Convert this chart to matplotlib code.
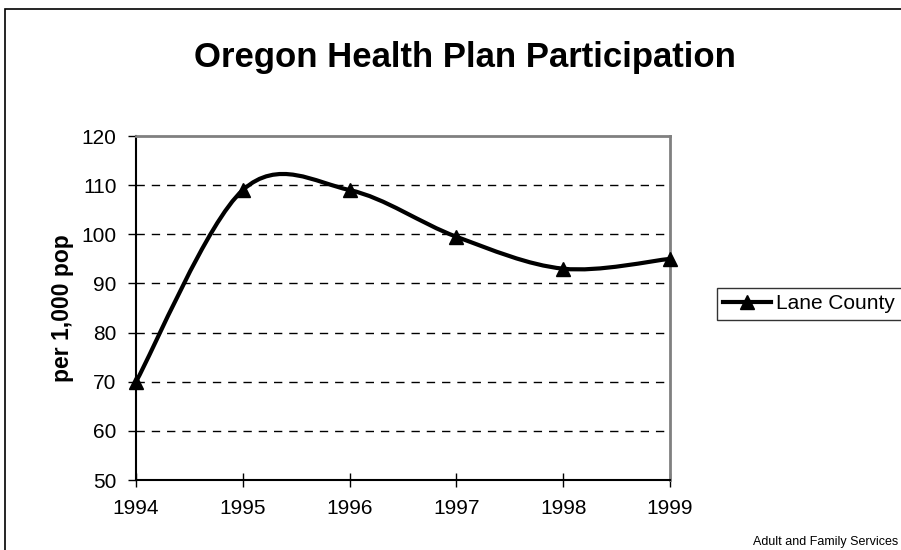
import matplotlib.pyplot as plt
from matplotlib.path import Path
from matplotlib.patches import PathPatch, Rectangle
from matplotlib.lines import Line2D

plt.rcParams['font.family'] = ['Liberation Sans', 'DejaVu Sans']

# data
years = [1994, 1995, 1996, 1997, 1998, 1999]
lane_county = [70, 109, 109, 99.5, 93, 95]
yticks = [50, 60, 70, 80, 90, 100, 110, 120]

fig = plt.figure(figsize=(9.01, 5.5), dpi=100)
W, H = 901, 550

# outer chart border (right/bottom run off the image)
fig.patches.append(Rectangle((5 / W, -0.05), 1.2, 1 - 9 / H + 0.05,
                             transform=fig.transFigure, fill=False,
                             edgecolor='black', linewidth=1.2))

ax = fig.add_axes([136 / W, 1 - 480 / H, (670 - 136) / W, (480 - 136) / H])

# smoothed line like Excel (cubic bezier through the points)
pts = list(zip(years, lane_county))
verts = [pts[0]]
codes = [Path.MOVETO]
n = len(pts)
for i in range(n - 1):
    p0 = pts[i - 1] if i > 0 else pts[i]
    p1 = pts[i]
    p2 = pts[i + 1]
    p3 = pts[i + 2] if i + 2 < n else pts[i + 1]
    c1 = (p1[0] + (p2[0] - p0[0]) / 6, p1[1] + (p2[1] - p0[1]) / 6)
    c2 = (p2[0] - (p3[0] - p1[0]) / 6, p2[1] - (p3[1] - p1[1]) / 6)
    verts += [c1, c2, p2]
    codes += [Path.CURVE4] * 3
ax.add_patch(PathPatch(Path(verts, codes), fill=False, edgecolor='black',
                       linewidth=3, capstyle='round', joinstyle='round', zorder=3))
ax.plot(years, lane_county, linestyle='none', marker='^', markersize=10,
        color='black', zorder=4, clip_on=False)

ax.set_xlim(1994, 1999)
ax.set_ylim(50, 120)
ax.set_xticks(years)
ax.set_yticks(yticks)
ax.tick_params(axis='both', labelsize=15, colors='black')
ax.tick_params(axis='x', direction='inout', length=10, width=1, pad=9)
ax.tick_params(axis='y', direction='out', length=6, width=1, pad=8)
for y in yticks[1:-1]:
    ax.axhline(y, color='black', linewidth=1, linestyle=(0, (6, 5)), zorder=1)

ax.spines['left'].set_color('black')
ax.spines['bottom'].set_color('black')
ax.spines['left'].set_linewidth(1.5)
ax.spines['bottom'].set_linewidth(1.5)
ax.spines['top'].set_color('#808080')
ax.spines['right'].set_color('#808080')
ax.spines['top'].set_linewidth(2)
ax.spines['right'].set_linewidth(2)

ax.set_ylabel('per 1,000 pop', fontsize=16.5, fontweight='bold', labelpad=5)

fig.text(465 / W, 1 - 57 / H, 'Oregon Health Plan Participation',
         fontsize=25, fontweight='bold', ha='center', va='center')

handle = Line2D([], [], color='black', linewidth=3, marker='^', markersize=10)
leg = fig.legend([handle], ['Lane County'], loc='upper left',
                 bbox_to_anchor=(717 / W, 1 - 288 / H), fontsize=15,
                 frameon=True, fancybox=False, handlelength=2.3,
                 handletextpad=0.25, borderpad=0.3, borderaxespad=0)
leg.get_frame().set_edgecolor('black')
leg.get_frame().set_linewidth(1)

fig.text(898 / W, 1 - 548 / H, 'Adult and Family Services', fontsize=9,
         ha='right', va='bottom')

fig.savefig('out.png', dpi=100)
